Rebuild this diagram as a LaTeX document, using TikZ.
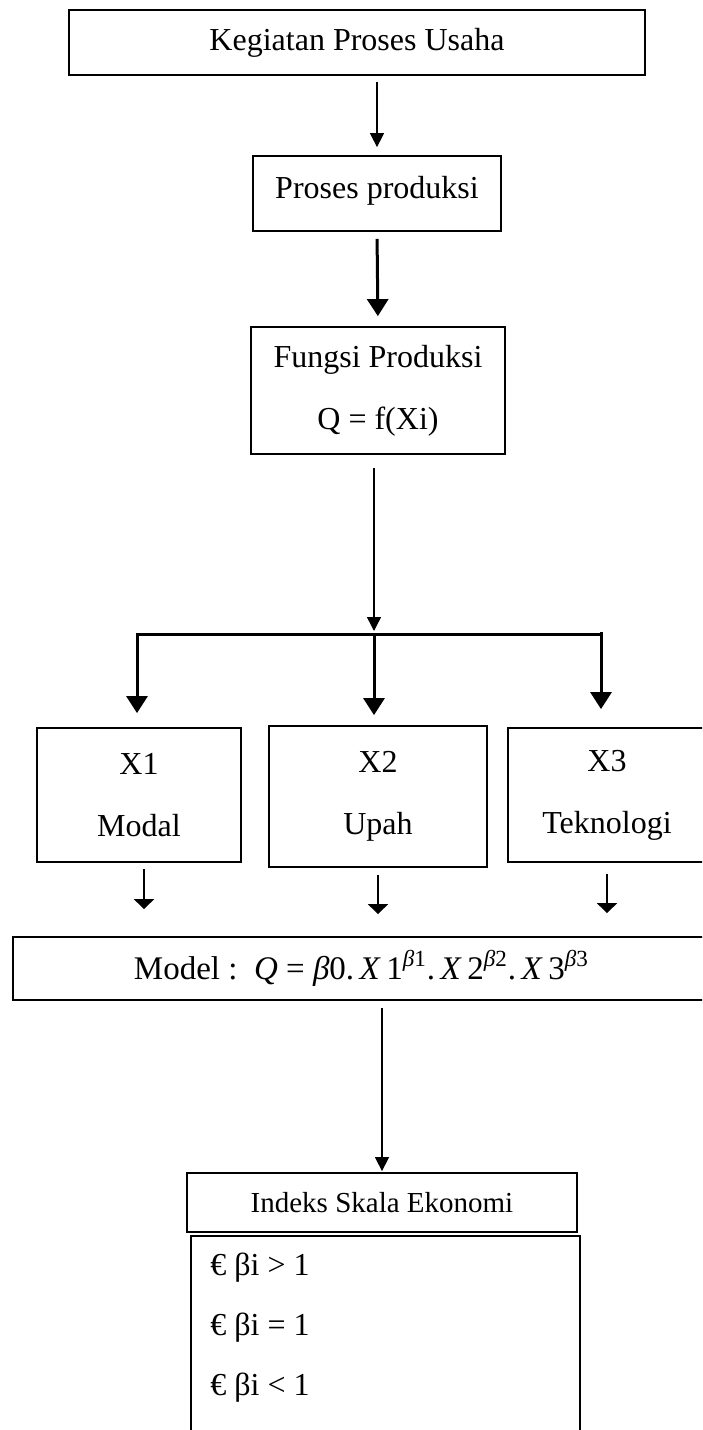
\documentclass[tikz,border=0pt]{standalone}
\usepackage{fontspec}
\setmainfont{Liberation Serif}
\usetikzlibrary{arrows.meta}
\begin{document}
\begin{tikzpicture}[x=0.5pt,y=-0.5pt,
  box/.style={draw, line width=0.9pt, inner sep=0pt, align=center, font=\fontsize{16}{19}\selectfont},
  twoline/.style={font=\fontsize{16}{31}\selectfont},
  thinarrow/.style={line width=0.75pt, -{Triangle[width=7pt,length=7pt]}},
  thickarrow/.style={line width=1.5pt, -{Triangle[width=10.5pt,length=8.5pt]}},
  shortarrow/.style={line width=1pt, -{Triangle[width=10pt,length=5pt]}},
  condtext/.style={anchor=base west, inner sep=0pt, font=\fontsize{16}{19}\selectfont}]
\useasboundingbox (0,0) rectangle (702,1430);
\clip (0,0) rectangle (702,1430);

% boxes
\node[box, minimum width=288pt, minimum height=32.5pt] (b1) at (357,42.5) {Kegiatan Proses Usaha};
\node[box, minimum width=124pt, minimum height=37.5pt, text depth=6pt] (b2) at (377,193.5) {Proses produksi};
\node[box, twoline, minimum width=127pt, minimum height=63.5pt] (b3) at (378,390.5) {Fungsi Produksi\\Q = f(Xi)};

\node[box, twoline, minimum width=102pt, minimum height=67pt] (x1) at (139,795) {X1\\Modal};
\node[box, twoline, minimum width=109pt, minimum height=70.5pt] (x2) at (378,796.5) {X2\\Upah};
\node[box, twoline, minimum width=99pt, minimum height=67pt] (x3) at (607,795) {X3\\Teknologi};

\node[box, font=\fontsize{16.5}{19}\selectfont, minimum width=348.5pt, minimum height=31.5pt] (model) at (361.5,968.5)
  {Model :\ \ \textit{Q} = \textit{β}0.\,\textit{X}\,1\textsuperscript{\textit{β}1}.\,\textit{X}\,2\textsuperscript{\textit{β}2}.\,\textit{X}\,3\textsuperscript{\textit{β}3}};

\node[box, font=\fontsize{14.5}{17}\selectfont, minimum width=195pt, minimum height=29.5pt] (ind) at (382,1202.5) {Indeks Skala Ekonomi};
\node[box, minimum width=194.5pt, minimum height=104.5pt] (cond) at (385.5,1340.5) {};
\node[condtext] (c1) at (210,1275) {€ βi > 1};
\node[condtext] (c2) at (210,1335) {€ βi = 1};
\node[condtext] (c3) at (210,1395) {€ βi < 1};

% bar coordinates
\coordinate (bar) at (374,634);
\coordinate (barL) at (137,634);
\coordinate (barR) at (601,634);

% connectors
\draw[thinarrow, shorten <=3pt, shorten >=4pt] (b1.south -| b2) -- (b2.north);
\draw[thickarrow, shorten <=3.5pt, shorten >=5pt] (b2.south) -- (b3.north);
\draw[thinarrow, shorten <=6.5pt, shorten >=1.5pt] (b3.south -| bar) -- (bar);
\draw[line width=1.5pt, line cap=rect] (barL) -- (barR);
\draw[thickarrow, shorten >=7pt] (barL) -- (barL |- x1.north);
\draw[thickarrow, shorten >=5pt] (bar) -- (bar |- x2.north);
\draw[thickarrow, shorten >=9pt] ([yshift=1.2pt]barR) -- (barR |- x3.north);

\draw[shortarrow, shorten <=3pt, shorten >=13.5pt] ([xshift=2.5pt]x1.south) -- ([xshift=2.5pt]x1.south |- model.north);
\draw[shortarrow, shorten <=3.5pt, shorten >=11pt] (x2.south) -- (x2.south |- model.north);
\draw[shortarrow, shorten <=5.5pt, shorten >=11.5pt] (x3.south) -- (x3.south |- model.north);

\draw[thinarrow, shorten <=3.5pt, shorten >=0.5pt] (model.south -| ind) -- (ind.north);
\end{tikzpicture}
\end{document}
